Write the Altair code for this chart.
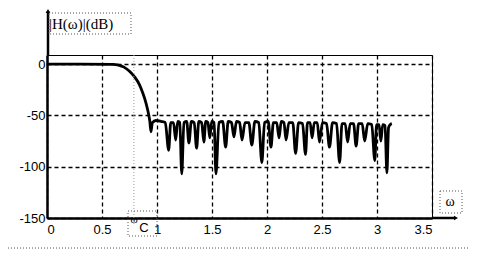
import altair as alt
import pandas as pd

# curve (omega, |H| in dB)
omega = [0.000, 0.300, 0.600, 0.650, 0.700, 0.750, 0.800, 0.840, 0.870, 0.900, 0.920, 0.935, 0.945,
         0.958, 0.990, 1.040, 1.075, 1.106, 1.125, 1.150, 1.170, 1.188, 1.207, 1.225, 1.245, 1.270,
         1.290, 1.312, 1.338, 1.360, 1.380, 1.406, 1.426, 1.443, 1.463, 1.480, 1.497, 1.519, 1.536,
         1.563, 1.597, 1.624, 1.647, 1.677, 1.700, 1.722, 1.751, 1.773, 1.800, 1.835, 1.862, 1.890,
         1.925, 1.953, 1.978, 2.011, 2.036, 2.058, 2.088, 2.110, 2.129, 2.154, 2.173, 2.199, 2.234,
         2.260, 2.287, 2.323, 2.350, 2.368, 2.392, 2.410, 2.430, 2.457, 2.477, 2.504, 2.541, 2.568,
         2.596, 2.632, 2.660, 2.682, 2.711, 2.733, 2.756, 2.787, 2.810, 2.833, 2.865, 2.888, 2.916,
         2.952, 2.980, 2.996, 3.019, 3.035, 3.052, 3.073, 3.090, 3.105, 3.120, 3.135]
mag_db = [0, 0, -0.3, -1, -3, -7, -13, -20, -28, -38, -47, -56, -66,
          -57, -55, -56, -57, -84, -57, -57, -74, -56, -57, -107, -57, -56,
          -77, -56, -57, -82, -56, -57, -76, -56, -57, -72, -56, -57, -107,
          -57, -56, -81, -56, -57, -71, -56, -57, -74, -57, -57, -79, -56,
          -57, -96, -57, -56, -81, -57, -57, -72, -56, -57, -74, -57, -57,
          -87, -57, -58, -88, -57, -57, -72, -57, -57, -76, -57, -58, -81,
          -57, -58, -96, -58, -58, -76, -58, -58, -80, -58, -58, -75, -58,
          -59, -94, -59, -59, -75, -59, -60, -106, -62, -59, -58]

x_ticks = [0, 0.5, 1, 1.5, 2, 2.5, 3, 3.5]
y_ticks = [-150, -100, -50, 0]
omega_c = 0.79

W, H = 385, 163
df = pd.DataFrame({"w": omega, "db": mag_db})
one = pd.DataFrame({"a": [0]})

xs = alt.Scale(domain=[0, 3.5], nice=False, zero=False)
ys = alt.Scale(domain=[-150, 8.8], nice=False, zero=False)

curve = alt.Chart(df).mark_line(color="black", strokeWidth=2.8, interpolate="monotone").encode(
    x=alt.X("w:Q", scale=xs, axis=alt.Axis(values=x_ticks, labelExpr="datum.value", title=None,
                                          labelPadding=5)),
    y=alt.Y("db:Q", scale=ys, axis=alt.Axis(values=y_ticks, labelExpr="datum.value", title=None,
                                           labelPadding=2)),
)

wc_line = alt.Chart(one).mark_rule(color="#9a9a9a", strokeWidth=1, strokeDash=[1, 2]).encode(
    x=alt.datum(omega_c), y=alt.value(0), y2=alt.value(170))

yext = alt.Chart(one).mark_rule(color="black", strokeWidth=2.5).encode(
    x=alt.value(1), y=alt.value(-44), y2=alt.value(0))
xext = alt.Chart(one).mark_rule(color="black", strokeWidth=2.5).encode(
    x=alt.value(W), x2=alt.value(408), y=alt.value(H))
yarrow = alt.Chart(one).mark_point(shape="triangle-up", filled=True, color="black", size=22, opacity=1).encode(
    x=alt.value(1), y=alt.value(-44))
xarrow = alt.Chart(one).mark_point(shape="triangle-right", filled=True, color="black", size=22, opacity=1).encode(
    x=alt.value(409), y=alt.value(H))

def box(x1, x2, y1, y2):
    return alt.Chart(one).mark_rect(fill=None, fillOpacity=0, stroke="#555", strokeWidth=1,
                                    strokeDash=[1, 2]).encode(
        x=alt.value(x1), x2=alt.value(x2), y=alt.value(y1), y2=alt.value(y2))

box_h = box(2, 84, -42, -21)
box_w = box(393, 415, 136, 158)
box_wc = box(81, 110, 156, 181)

t_h = alt.Chart(one).mark_text(text="|H(ω)|(dB)", font="Liberation Serif", fontSize=15, align="left",
                               baseline="middle", color="black").encode(x=alt.value(2), y=alt.value(-31))
t_w = alt.Chart(one).mark_text(text="ω", font="Liberation Serif", fontSize=14, align="center",
                               baseline="middle", color="black").encode(x=alt.value(403), y=alt.value(147))
t_wc1 = alt.Chart(one).mark_text(text="ω", font="Liberation Serif", fontSize=11, align="center",
                                 baseline="middle", color="black").encode(x=alt.value(87), y=alt.value(165))
t_wc2 = alt.Chart(one).mark_text(text="C", font="Liberation Sans", fontSize=13, align="center",
                                 baseline="middle", color="black").encode(x=alt.value(97), y=alt.value(173))

bottom_dots = alt.Chart(one).mark_rule(color="#555", strokeWidth=1, strokeDash=[1, 2]).encode(
    x=alt.value(-39), x2=alt.value(423), y=alt.value(193))

chart = alt.layer(
    curve, wc_line, yext, xext, yarrow, xarrow, box_h, box_w, box_wc, t_h, t_w, t_wc1, t_wc2, bottom_dots
).properties(
    width=W, height=H,
    autosize=alt.AutoSizeParams(type="none"),
    padding={"left": 47, "top": 55, "right": 45, "bottom": 36},
    background="white",
).configure_view(
    stroke="black", strokeWidth=1
).configure_axis(
    grid=True, gridColor="black", gridDash=[4, 3], gridWidth=1.3,
    domainColor="black", domainWidth=2.5, ticks=False,
    labelFont="Liberation Sans", labelFontSize=13, labelColor="black",
)

chart.save("out.html", embed_options={"renderer": "svg", "actions": False})
